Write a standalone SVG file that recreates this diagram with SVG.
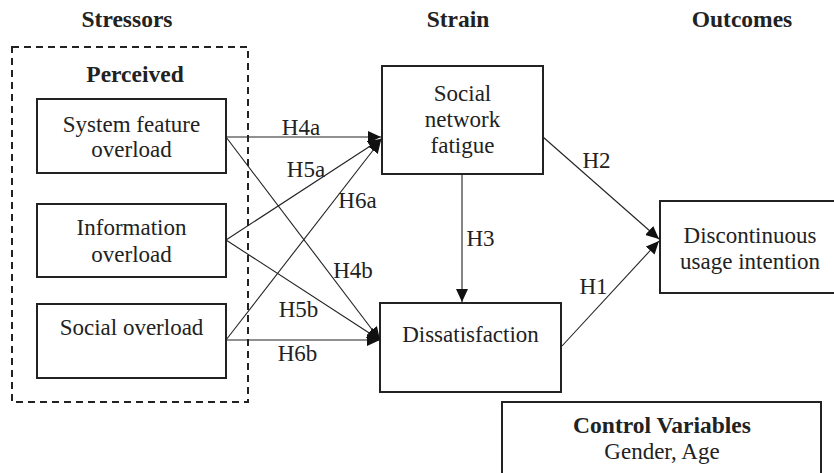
<svg xmlns="http://www.w3.org/2000/svg" width="834" height="473" viewBox="0 0 834 473">
<style>
text{font-family:"Liberation Serif","Times New Roman",serif;font-size:23px;fill:#222;text-anchor:middle}
.b{font-weight:bold;font-size:23.5px}
.box{fill:none;stroke:#222;stroke-width:2}
.dash{fill:none;stroke:#222;stroke-width:2;stroke-dasharray:7 5}
.ln{stroke:#222;stroke-width:1.1;fill:none;marker-end:url(#ah)}
</style>
<defs>
<marker id="ah" markerUnits="userSpaceOnUse" markerWidth="14" markerHeight="12" refX="13" refY="6" orient="auto">
<path d="M0,0 L13,6 L0,12 Z" fill="#111"/>
</marker>
</defs>
<rect width="834" height="473" fill="#fff"/>
<g id="headers">
<text class="b" x="127" y="27">Stressors</text>
<text class="b" x="458" y="27">Strain</text>
<text class="b" x="742" y="27">Outcomes</text>
</g>
<g id="perceived">
<rect class="dash" x="12" y="47" width="236" height="355"/>
<text class="b" x="135" y="82">Perceived</text>
</g>
<g id="system-feature">
<rect class="box" x="37" y="99" width="189" height="74"/>
<text x="131.5" y="132">System feature</text>
<text x="131.5" y="157">overload</text>
</g>
<g id="information">
<rect class="box" x="37" y="204" width="189" height="73"/>
<text x="131.5" y="235">Information</text>
<text x="131.5" y="262">overload</text>
</g>
<g id="social">
<rect class="box" x="37" y="304" width="189" height="74"/>
<text x="131.5" y="335">Social overload</text>
</g>
<g id="fatigue">
<rect class="box" x="382" y="66" width="161" height="108"/>
<text x="462.5" y="101">Social</text>
<text x="462.5" y="127">network</text>
<text x="462.5" y="153">fatigue</text>
</g>
<g id="dissatisfaction">
<rect class="box" x="380" y="303" width="181" height="89"/>
<text x="470.5" y="342">Dissatisfaction</text>
</g>
<g id="discontinuous">
<rect class="box" x="660" y="201" width="175" height="92"/>
<text x="750" y="243">Discontinuous</text>
<text x="750" y="269">usage intention</text>
</g>
<g id="control">
<rect class="box" x="502" y="402" width="319" height="80"/>
<text class="b" x="662" y="433">Control Variables</text>
<text x="662" y="459">Gender, Age</text>
</g>
<g id="connectors">
<line class="ln" x1="226" y1="137" x2="381" y2="137"/>
<line class="ln" x1="226" y1="137" x2="380" y2="340"/>
<line class="ln" x1="226" y1="240" x2="381" y2="139"/>
<line class="ln" x1="226" y1="240" x2="380" y2="340"/>
<line class="ln" x1="226" y1="340" x2="381" y2="140"/>
<line class="ln" x1="226" y1="340" x2="380" y2="340"/>
<line class="ln" x1="543" y1="137" x2="659" y2="239"/>
<line class="ln" x1="562" y1="346" x2="659" y2="241"/>
<line class="ln" x1="462" y1="174" x2="462" y2="302"/>
</g>
<g id="labels">
<text x="301" y="135">H4a</text>
<text x="306" y="177">H5a</text>
<text x="357.5" y="208">H6a</text>
<text x="353" y="278">H4b</text>
<text x="298.5" y="317">H5b</text>
<text x="297.5" y="361">H6b</text>
<text x="596.5" y="168">H2</text>
<text x="480.5" y="246">H3</text>
<text x="593.5" y="294">H1</text>
</g>
</svg>
